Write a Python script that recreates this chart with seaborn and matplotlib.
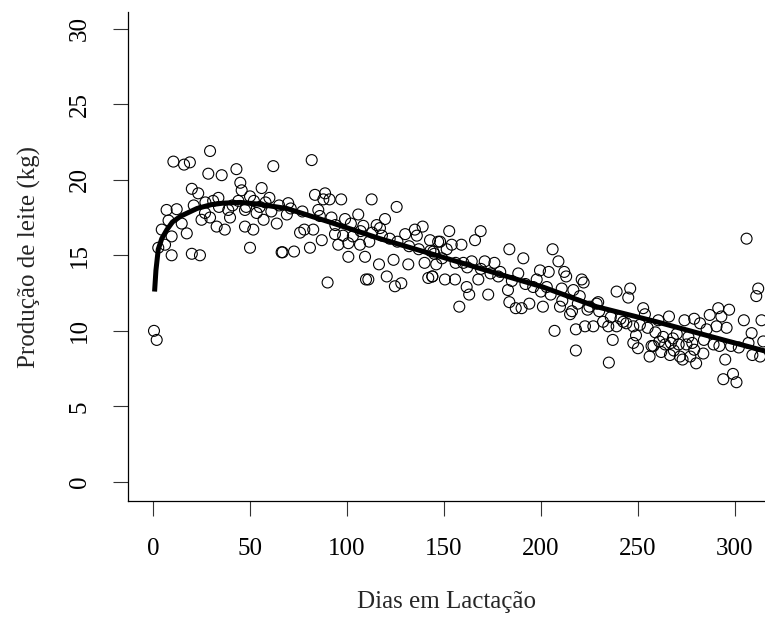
import matplotlib
matplotlib.use("Agg")
import matplotlib.pyplot as plt
import seaborn as sns
import pandas as pd

# Observed daily milk yield (kg) by day in milk
dias = [
    0.5, 1.9, 2.7, 4.5, 6.2, 7.0, 9.6, 9.6, 10.5, 12.2, 14.8, 16.0, 17.4, 19.0, 20.0,
    20.0, 23.3, 24.2, 25.0, 26.8, 28.5, 29.4, 29.4, 32.8, 33.7, 35.4, 37.0, 38.8, 39.7,
    43.0, 45.0, 45.7, 47.4, 47.4, 50.0, 50.0, 51.7, 53.4, 56.0, 57.0, 60.0, 62.0, 63.8,
    66.3, 66.8, 69.0, 69.7, 72.7, 75.8, 78.0, 80.9, 81.8, 82.6, 83.5, 85.2, 87.0, 87.8,
    88.7, 90.0, 91.0, 92.0, 93.8, 95.5, 97.0, 98.0, 99.0, 100.7, 100.7, 103.0, 105.8,
    106.7, 108.4, 109.3, 109.8, 111.0, 111.5, 112.7, 115.3, 116.5, 117.0, 119.6, 120.5,
    122.0, 124.0, 124.7, 125.6, 128.0, 130.0, 131.6, 135.0, 136.0, 139.0, 140.0, 141.9,
    142.8, 144.0, 144.0, 144.5, 145.0, 146.0, 147.0, 148.0, 150.5, 151.4, 152.7, 154.0,
    155.7, 157.9, 159.0, 160.0, 161.7, 163.0, 164.3, 166.0, 167.7, 168.9, 171.0, 172.8,
    176.0, 179.0, 183.0, 183.7, 183.7, 187.0, 188.3, 190.0, 190.9, 194.0, 197.8, 199.5,
    201.0, 203.0, 204.0, 206.0, 207.0, 209.0, 209.8, 210.7, 212.0, 213.0, 215.0, 216.0,
    216.7, 218.0, 218.0, 220.0, 221.0, 222.0, 222.7, 224.0, 227.0, 228.7, 229.5, 232.0,
    234.7, 235.0, 237.0, 239.0, 239.0, 242.4, 245.0, 246.0, 247.6, 247.6, 249.0, 250.0,
    252.7, 253.6, 256.0, 257.0, 260.5, 261.0, 264.0, 266.0, 266.5, 267.0, 271.0, 271.6,
    273.0, 274.0, 275.0, 277.0, 279.0, 279.0, 280.0, 282.0, 283.7, 285.4, 287.0, 290.5,
    291.4, 293.0, 294.0, 295.0, 295.7, 297.0, 299.0, 300.8, 304.6, 306.0, 308.6, 309.0,
    311.0, 312.0, 313.0, 313.7, 314.6,
    8.0, 21.0, 27.0, 31.0, 34.0, 41.0, 44.0, 48.0, 52.0, 55.0, 58.0, 61.0, 65.0,
    71.0, 77.0, 86.0, 94.0, 102.0, 107.0, 113.0, 118.0, 126.0, 132.0, 137.0, 143.0,
    149.0, 156.0, 162.0, 169.0, 174.0, 178.0, 185.0, 192.0, 196.0, 200.0, 205.0, 211.0,
    219.0, 225.0, 230.0, 236.0, 241.0, 244.0, 251.0, 255.0, 259.0, 263.0, 268.0, 270.0,
    276.0, 278.0, 284.0, 289.0, 292.0, 298.0, 302.0, 307.0, 258.0, 262.0, 268.5,
]
producao = [
    10.0, 9.4, 15.5, 16.7, 15.7, 18.0, 16.25, 15.0, 21.2, 18.05, 17.1, 21.0, 16.45, 21.15, 19.4,
    15.1, 19.1, 15.0, 17.35, 17.8, 20.4, 21.9, 17.5, 16.9, 18.8, 20.3, 16.7, 18.0, 17.5,
    20.7, 19.8, 19.3, 18.0, 16.9, 18.9, 15.5, 16.7, 17.8, 19.45, 17.35, 18.8, 20.9, 17.1,
    15.2, 15.2, 17.7, 18.45, 15.25, 16.5, 16.7, 15.5, 21.3, 16.7, 19.0, 18.0, 16.0, 18.7,
    19.1, 13.2, 18.7, 17.5, 16.4, 15.7, 18.7, 16.3, 17.4, 15.8, 14.9, 16.25, 17.7,
    15.7, 16.95, 14.9, 13.4, 13.4, 15.9, 18.7, 17.0, 14.4, 16.8, 17.4, 13.6,
    16.1, 14.7, 12.95, 18.2, 13.15, 16.4, 14.4, 16.7, 16.3, 16.9, 14.5, 13.5,
    16.0, 13.6, 13.6, 15.25, 15.1, 14.4, 15.9, 15.9, 13.4, 15.4, 16.6, 15.7,
    13.4, 11.6, 15.7, 14.5, 12.9, 12.4, 14.6, 16.0, 13.4, 16.6, 14.6, 12.4,
    14.5, 13.9, 12.7, 15.4, 11.9, 11.5, 13.8, 11.5, 14.8, 11.8, 13.4, 14.0,
    11.6, 12.9, 13.9, 15.4, 10.0, 14.6, 11.6, 12.8, 13.9, 13.6, 11.1, 11.3,
    12.7, 10.1, 8.7, 12.3, 13.4, 13.2, 10.3, 11.4, 10.3, 11.8, 11.9, 10.6,
    10.3, 7.9, 9.4, 12.6, 10.3, 10.6, 12.2, 12.8, 10.3, 9.2, 9.7, 8.85,
    11.5, 11.1, 8.3, 9.0, 10.7, 9.3, 9.1, 10.95, 8.4, 9.2, 9.1, 8.3,
    8.1, 10.7, 9.1, 8.3, 10.8, 8.75, 7.85, 10.5, 8.5, 10.1, 11.05, 10.3,
    11.5, 10.95, 6.8, 8.1, 10.2, 11.4, 7.15, 6.6, 10.7, 16.1, 9.85, 8.4,
    12.3, 12.8, 8.3, 10.7, 9.3,
    17.3, 18.3, 18.5, 18.6, 18.2, 18.3, 18.6, 18.2, 18.6, 18.2, 18.5, 17.9, 18.3,
    18.1, 17.9, 17.6, 17.0, 17.1, 16.6, 16.5, 16.3, 15.9, 15.6, 15.4, 15.3,
    14.8, 14.5, 14.2, 14.1, 13.8, 13.6, 13.3, 13.1, 12.9, 12.6, 12.4, 12.0,
    11.8, 11.6, 11.3, 10.9, 10.8, 10.5, 10.4, 10.2, 9.9, 9.6, 9.5, 9.8,
    9.6, 9.2, 9.4, 9.1, 9.0, 9.0, 8.9, 9.2, 9.0, 8.6, 8.7,
]

# Fitted lactation curve, read at selected days
curva_dias = [0.8, 1.5, 2.7, 4.5, 7.2, 10.0, 14.4, 22.7, 30.0, 36.0, 45.0, 53.4, 68.9,
              91.0, 117.0, 146.0, 172.0, 201.0, 228.6, 259.6, 294.0, 316.0]
curva_prod = [12.6, 14.0, 15.4, 16.1, 16.7, 17.2, 17.6, 18.1, 18.35, 18.45, 18.5, 18.4, 18.1,
              17.2, 16.1, 15.0, 14.0, 12.9, 11.6, 10.6, 9.4, 8.65]

x_ticks = [0, 50, 100, 150, 200, 250, 300]
y_ticks = [0, 5, 10, 15, 20, 25, 30]

pontos = pd.DataFrame({"dias": dias, "producao": producao})
curva = pd.DataFrame({"dias": curva_dias, "producao": curva_prod})

sns.set_style("ticks")
plt.rcParams["font.family"] = ["Liberation Serif", "DejaVu Serif"]

fig = plt.figure(figsize=(7.65, 6.2), dpi=100)
ax = fig.add_axes([128 / 765, 119 / 620, (765 - 128) / 765, (608 - 119) / 620])

sns.scatterplot(data=pontos, x="dias", y="producao", ax=ax, marker="o", s=62,
                facecolors="none", edgecolors="black", linewidths=0.8, legend=False)
sns.lineplot(data=curva, x="dias", y="producao", ax=ax, color="black", linewidth=3.6,
             solid_capstyle="butt", solid_joinstyle="round")

ax.set_xlim(-12.9, 315.5)
ax.set_ylim(-1.26, 31.1)
ax.set_xticks(x_ticks)
ax.set_yticks(y_ticks)
ax.set_xticklabels([str(v) for v in x_ticks])
ax.set_yticklabels([str(v) for v in y_ticks], rotation=90, va="center")

for side in ("top", "right"):
    ax.spines[side].set_visible(False)
for side in ("left", "bottom"):
    ax.spines[side].set_linewidth(0.9)
    ax.spines[side].set_color("black")

ax.tick_params(axis="both", length=10.8, width=0.8, color="#333333",
               labelsize=18, pad=16, colors="black")
ax.set_xlabel("Dias em Lactação", fontsize=18, labelpad=22)
ax.set_ylabel("Produção de leite (kg)", fontsize=18, labelpad=20)

fig.savefig("out.png", dpi=100)
